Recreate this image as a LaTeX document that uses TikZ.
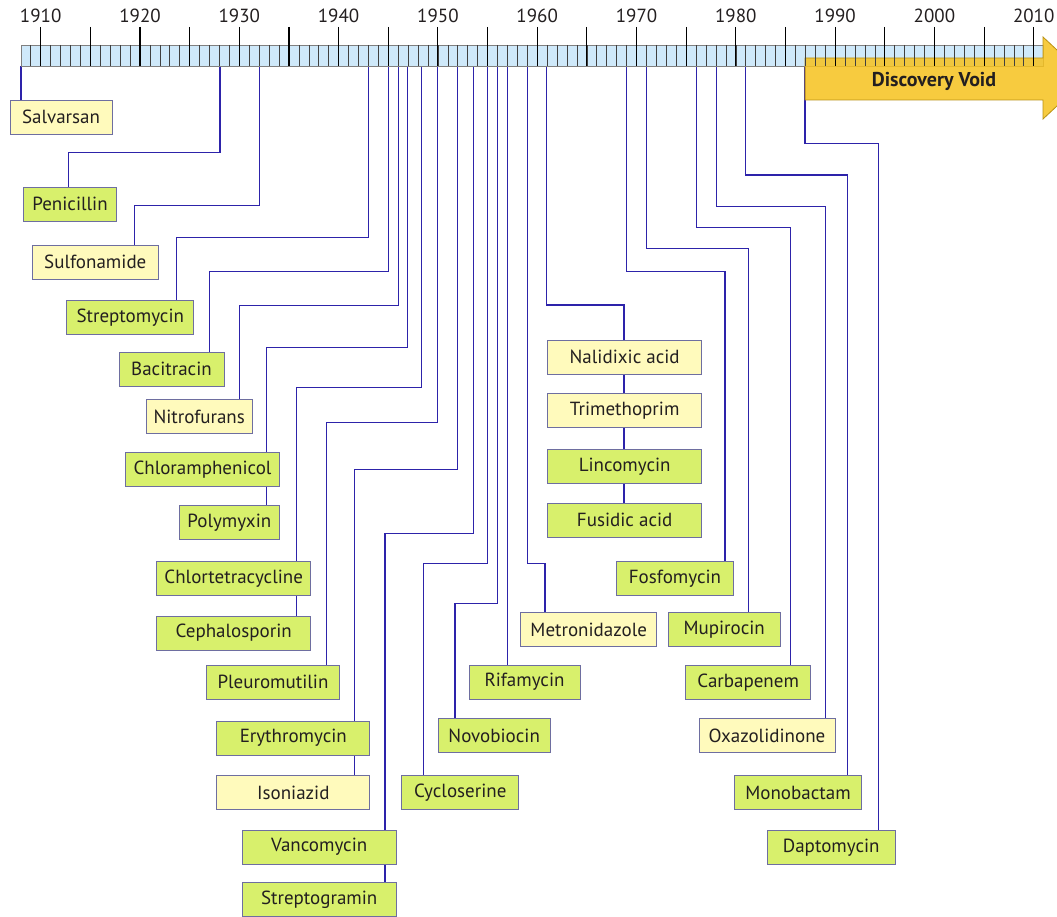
\documentclass[tikz,border=0pt]{standalone}
\usepackage{fontspec}
\setmainfont{PT Sans}
\usetikzlibrary{backgrounds}
\definecolor{lineblue}{RGB}{45,35,170}
\definecolor{boxgreen}{RGB}{216,240,108}
\definecolor{boxpale}{RGB}{255,250,188}
\definecolor{boxedge}{RGB}{110,110,160}
\definecolor{barblue}{RGB}{207,233,250}
\definecolor{voidgold}{RGB}{246,194,30}
\definecolor{voidedge}{RGB}{185,145,20}
\definecolor{inkgray}{RGB}{35,31,32}

\begin{document}
\begin{tikzpicture}[x=1pt,y=-1pt,
  drug/.style={draw=boxedge,line width=0.9pt,minimum height=34pt,inner sep=0pt,
    text=inkgray,font=\fontsize{19}{21}\selectfont},
  natural/.style={drug,fill=boxgreen},
  synth/.style={drug,fill=boxpale},
  link/.style={lineblue,line width=1.4pt},
  yearlbl/.style={text=inkgray,font=\fontsize{19}{20}\selectfont}]
  \clip (0,0) rectangle (1057,917);
  \begin{scope}[on background layer]
    \fill[white] (0,0) rectangle (1057,917);
  \end{scope}
  % time bar
  \filldraw[fill=barblue,draw=gray,line width=0.8pt] (21,45) rectangle (1043,66);
  % discovery void
  \filldraw[fill=voidgold,fill opacity=0.85,draw=voidedge,line width=0.8pt]
    (805,58) -- (1043,58) -- (1043,37) -- (1087,78) -- (1043,119) -- (1043,100)
    -- (805,100) -- cycle;
  \node[font=\fontsize{20}{22}\selectfont\bfseries,text=inkgray] (void) at (934,81) {Discovery Void};
  % ticks and years
  \foreach \yr in {1909,...,2010}{
    \draw[black!75,line width=0.6pt] ({40.7+(\yr-1910)*9.93},45) -- ({40.7+(\yr-1910)*9.93},66);
  }
  \foreach \yr in {1910,1915,...,2010}{
    \draw[black,line width=1.1pt] ({40.7+(\yr-1910)*9.93},27) -- ({40.7+(\yr-1910)*9.93},66);
  }
  \foreach \yr in {1910,1920,...,2010}{
    \node[yearlbl] at ({40.7+(\yr-1910)*9.93},16) {\yr};
  }

  % drugs, left
  \node[synth,minimum width=102pt] (salvarsan) at (61,117) {Salvarsan};
  \node[natural,minimum width=93pt] (penicillin) at (70,204) {Penicillin};
  \node[synth,minimum width=126pt] (sulfonamide) at (95.3,262) {Sulfonamide};
  \node[natural,minimum width=127pt] (streptomycin) at (130.3,317.5) {Streptomycin};
  \node[natural,minimum width=105pt] (bacitracin) at (171.5,369.2) {Bacitracin};
  \node[synth,minimum width=106pt] (nitrofurans) at (199.2,416.8) {Nitrofurans};
  \node[natural,minimum width=154pt] (chloramphenicol) at (202.5,469.7) {Chloramphenicol};
  \node[natural,minimum width=100pt] (polymyxin) at (229.3,522.5) {Polymyxin};
  \node[natural,minimum width=154pt] (chlortetracycline) at (233.7,578.7) {Chlortetracycline};
  \node[natural,minimum width=154pt] (cephalosporin) at (233.7,633) {Cephalosporin};
  \node[natural,minimum width=133pt] (pleuromutilin) at (273,682.2) {Pleuromutilin};
  \node[natural,minimum width=153pt] (erythromycin) at (293.3,738) {Erythromycin};
  \node[synth,minimum width=153pt] (isoniazid) at (293.3,792.5) {Isoniazid};
  \node[natural,minimum width=154pt] (vancomycin) at (319.2,847.2) {Vancomycin};
  \node[natural,minimum width=154pt] (streptogramin) at (319.2,899.7) {Streptogramin};
  % drugs, middle
  \node[natural,minimum width=117pt] (cycloserine) at (460.3,792.8) {Cycloserine};
  \node[natural,minimum width=112pt] (novobiocin) at (494.2,735.5) {Novobiocin};
  \node[natural,minimum width=111pt] (rifamycin) at (524.5,682.2) {Rifamycin};
  \node[synth,minimum width=136pt] (metronidazole) at (588.7,629.7) {Metronidazole};
  \node[synth,minimum width=154pt] (nalidixic) at (624.7,357) {Nalidixic acid};
  \node[synth,minimum width=154pt] (trimethoprim) at (624.7,410.3) {Trimethoprim};
  \node[natural,minimum width=154pt] (lincomycin) at (624.7,466.3) {Lincomycin};
  \node[natural,minimum width=154pt] (fusidic) at (624.7,520.3) {Fusidic acid};
  % drugs, right
  \node[natural,minimum width=117pt] (fosfomycin) at (675,578.8) {Fosfomycin};
  \node[natural,minimum width=112pt] (mupirocin) at (724.2,629.7) {Mupirocin};
  \node[natural,minimum width=125pt] (carbapenem) at (748.2,682.2) {Carbapenem};
  \node[synth,minimum width=136pt] (oxazolidinone) at (767,735.5) {Oxazolidinone};
  \node[natural,minimum width=127pt] (monobactam) at (798,792.8) {Monobactam};
  \node[natural,minimum width=128pt] (daptomycin) at (831.2,847.5) {Daptomycin};

  % connectors
  \begin{scope}[on background layer]
    \foreach \d/\x/\h/\k in {salvarsan/21/80/21, penicillin/220/152.3/68.3,
        sulfonamide/259.7/205.7/134.3, streptomycin/368.3/237.3/176.7,
        bacitracin/388.3/271.7/209.3, nitrofurans/398.3/305.7/239.3,
        polymyxin/407.7/347.3/266.7, cephalosporin/421.7/387.3/296.7,
        pleuromutilin/437.7/422.3/326.7, isoniazid/457.7/469.3/354.3,
        streptogramin/473.3/533.5/385, cycloserine/487.7/563.3/423.3,
        novobiocin/497.7/603.3/455, rifamycin/507.7/600/507.7,
        metronidazole/527.7/563.3/545, fusidic/546.7/305/624,
        fosfomycin/626.7/271.7/725, mupirocin/646.3/248.3/748.3,
        carbapenem/696.7/227.7/790.7, oxazolidinone/716.7/206.7/825.7,
        monobactam/745.7/175/847.7, daptomycin/805/143.3/878.7}{
      \coordinate (top-\d) at (\x,66);
      \coordinate (bend-\d) at (\k,\h);
      \draw[link] (top-\d) |- (bend-\d) -- (bend-\d |- \d.north);
    }
  \end{scope}
\end{tikzpicture}
\end{document}
